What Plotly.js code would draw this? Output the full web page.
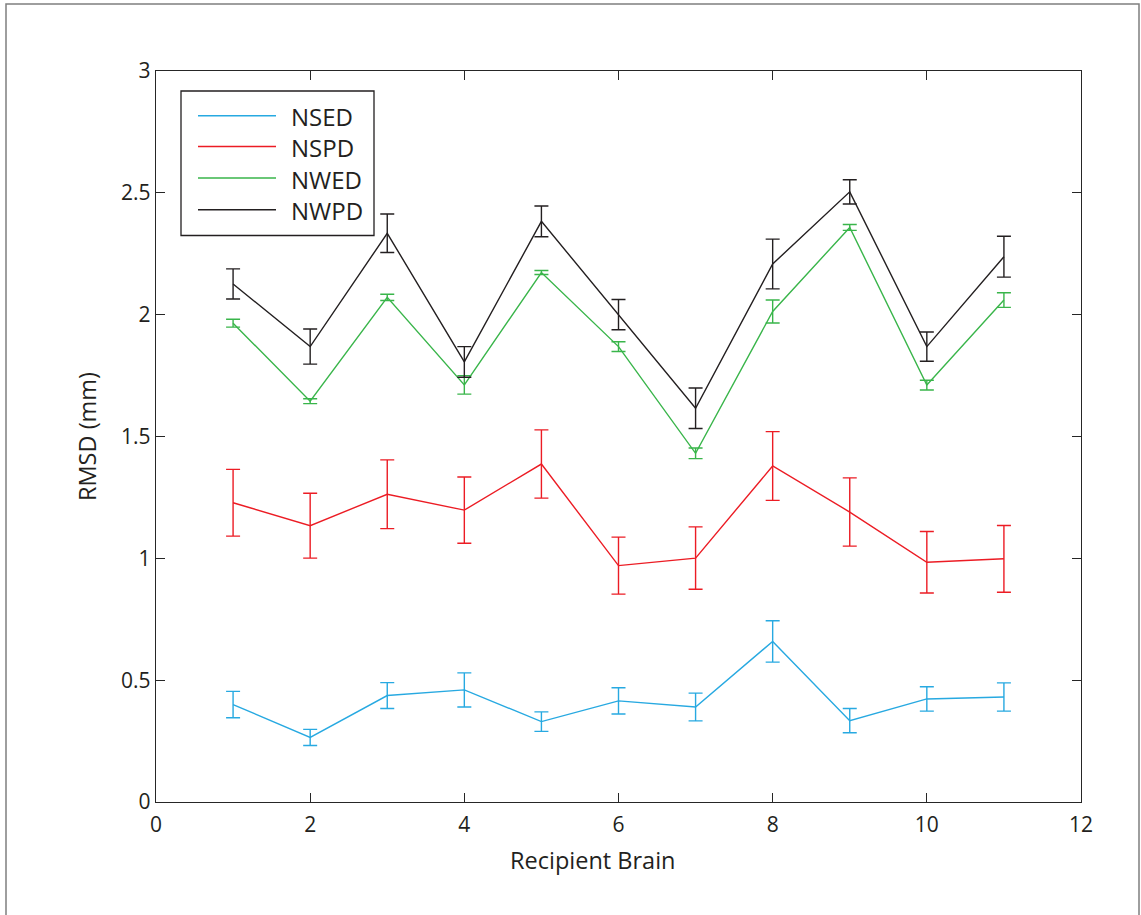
<!DOCTYPE html>
<html>
<head>
<meta charset="utf-8">
<script src="https://cdn.plot.ly/plotly-3.0.1.min.js"></script>
<style>
html,body{margin:0;padding:0;background:#fff;}
#chart{width:1141px;height:915px;}
</style>
</head>
<body>
<div id="chart"></div>
<script>
const brains = [1,2,3,4,5,6,7,8,9,10,11];

const nsed     = [0.400,0.265,0.437,0.460,0.330,0.415,0.390,0.659,0.334,0.423,0.431];
const nsedErr  = [0.054,0.033,0.053,0.070,0.040,0.054,0.057,0.085,0.050,0.050,0.058];

const nspd     = [1.228,1.134,1.263,1.198,1.387,0.970,1.001,1.379,1.190,0.984,0.998];
const nspdErr  = [0.137,0.133,0.141,0.136,0.140,0.117,0.128,0.141,0.140,0.126,0.137];

const nwed     = [1.965,1.645,2.071,1.712,2.173,1.869,1.431,2.013,2.358,1.711,2.060];
const nwedErr  = [0.016,0.010,0.013,0.038,0.008,0.020,0.022,0.047,0.012,0.020,0.030];

const nwpd     = [2.126,1.869,2.334,1.806,2.383,2.000,1.616,2.208,2.504,1.869,2.238];
const nwpdErr  = [0.062,0.072,0.079,0.063,0.063,0.062,0.083,0.102,0.050,0.060,0.084];

const seriesNames = ['NSED','NSPD','NWED','NWPD'];
const colors = ['#27a9e1','#ec1c24','#39b54a','#231f20'];
const xTicks = [0,2,4,6,8,10,12];
const yTicks = [0,0.5,1,1.5,2,2.5,3];

const ys = [nsed,nspd,nwed,nwpd];
const errs = [nsedErr,nspdErr,nwedErr,nwpdErr];

const traces = ys.map((y,i)=>({
  x: brains, y: y, name: seriesNames[i], type:'scatter', mode:'lines',
  line:{color:colors[i], width:1.4},
  error_y:{type:'data', array:errs[i], visible:true, color:colors[i], thickness:1.4, width:7},
  showlegend:false
}));

const FONT = '"Open Sans", "Noto Sans", sans-serif';
const TXT = '#231f20';
const axisCommon = {
  showgrid:false, zeroline:false, showline:true, mirror:'ticks',
  linecolor:'#262626', linewidth:1.3, ticks:'inside', ticklen:9, tickcolor:'#262626', tickwidth:1.3,
  tickfont:{family:FONT, size:21, color:TXT}
};

// plot-area geometry (pixels) used only for placing the hand-drawn legend box and label
const L = 156, T = 71, W = 925, H = 731;
const px = v => (v - L) / W;
const py = v => (T + H - v) / H;

const shapes = [{
  type:'rect', xref:'paper', yref:'paper',
  x0:px(6), x1:px(1139), y0:py(930), y1:py(4),
  line:{color:'#7f7f7f', width:1.5}, fillcolor:'rgba(0,0,0,0)', layer:'below'
},{
  type:'rect', xref:'paper', yref:'paper',
  x0:px(181), x1:px(374), y0:py(235.5), y1:py(91),
  line:{color:TXT, width:1.3}, fillcolor:'#ffffff', layer:'above'
}];
const annotations = [];
const rowY = [115.7, 146.5, 178, 209.7];
seriesNames.forEach((n,i)=>{
  shapes.push({type:'line', xref:'paper', yref:'paper',
    x0:px(198), x1:px(276), y0:py(rowY[i]), y1:py(rowY[i]),
    line:{color:colors[i], width:1.6}, layer:'above'});
  annotations.push({xref:'paper', yref:'paper', x:px(289), y:py(rowY[i]+1),
    xanchor:'left', yanchor:'middle', text:n, showarrow:false,
    font:{family:FONT, size:24, color:TXT}});
});
annotations.push({xref:'paper', yref:'paper', x:px(592), y:py(860),
  xanchor:'center', yanchor:'middle', text:'Recipient Brain', showarrow:false,
  font:{family:FONT, size:23.5, color:TXT}});

const layout = {
  width:1141, height:915,
  margin:{l:156, r:60, t:71, b:113},
  paper_bgcolor:'#fff', plot_bgcolor:'#fff',
  font:{family:FONT, color:TXT},
  xaxis: Object.assign({}, axisCommon, {
    range:[0,12], tickvals:xTicks, ticktext:xTicks.map(String),
    ticklabelstandoff:3
  }),
  yaxis: Object.assign({}, axisCommon, {
    range:[0,3], tickvals:yTicks, ticktext:yTicks.map(String),
    title:{text:'RMSD (mm)', font:{family:FONT,size:23.5,color:TXT}, standoff:17}
  }),
  showlegend:false,
  shapes: shapes,
  annotations: annotations
};

Plotly.newPlot('chart', traces, layout, {displayModeBar:false, staticPlot:true});
</script>
</body>
</html>
